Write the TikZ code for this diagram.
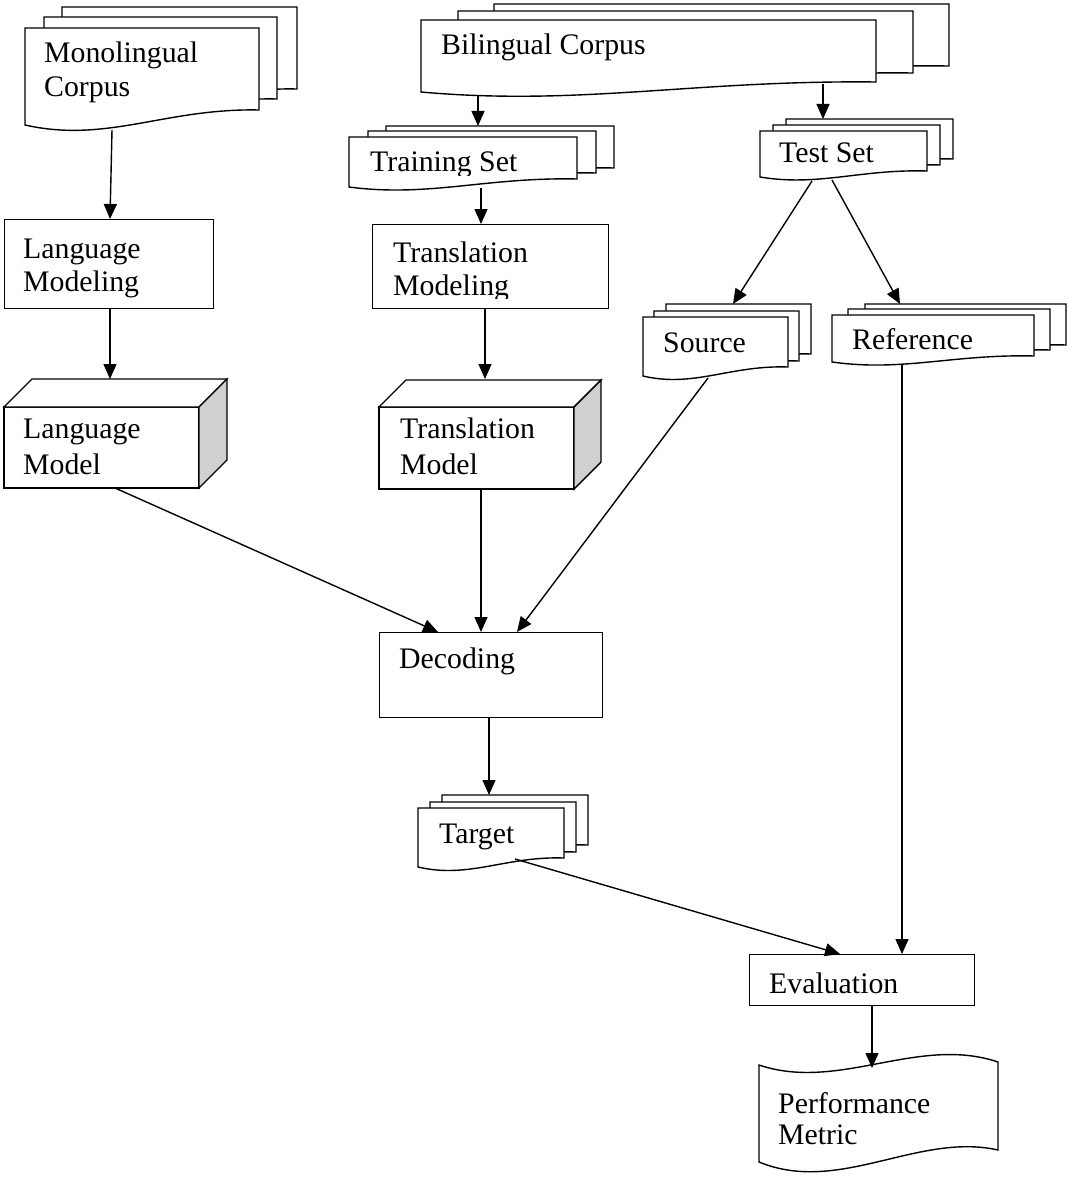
\documentclass[tikz,border=0pt]{standalone}
\usepackage{fontspec}
\setmainfont{Liberation Serif}
\usetikzlibrary{arrows.meta}
\definecolor{cubegray}{RGB}{208,208,208}
\tikzset{
  shp/.style={draw=black, fill=white, line width=1.4pt, line join=miter},
  boxnode/.style={draw=black, fill=white, line width=1.4pt, inner sep=0pt, anchor=north west},
  arr/.style={line width=1.4pt, -{Triangle[length=15pt,width=13pt]}},
  lbl/.style={anchor=base west, inner sep=0pt, font=\fontsize{29.8}{34}\selectfont},
}
% one page of a document stack: L T R Bl Br
\newcommand\docpage[5]{%
  \pgfmathsetmacro\dpW{#3-#1}%
  \pgfmathsetmacro\dpH{#4-#2}%
  \pgfmathsetmacro\dpK{0.17*\dpH+2}%
  \filldraw[shp] (#1,#2) -- (#3,#2) -- (#3,#5)
    .. controls ({#1+0.6*\dpW},{#5-2}) and ({#1+0.35*\dpW},{#4+\dpK}) .. (#1,#4) -- cycle;}
% cube: L T R B depth
\newcommand\cubeshape[5]{%
  \filldraw[shp] (#1,#2) rectangle (#3,#4);
  \filldraw[shp] (#1,#2) -- ({#1+#5},{#2-#5}) -- ({#3+#5},{#2-#5}) -- (#3,#2) -- cycle;
  \filldraw[shp, fill=cubegray] (#3,#2) -- ({#3+#5},{#2-#5}) -- ({#3+#5},{#4-#5}) -- (#3,#4) -- cycle;}
\begin{document}
\begin{tikzpicture}[x=1pt,y=-1pt]
\useasboundingbox (0,0) rectangle (1068,1177);

% ---------- Monolingual Corpus ----------
\docpage{62}{7}{297}{104}{89}
\docpage{44}{17}{277}{114}{99}
\docpage{25}{28}{259}{125}{110}
\node[lbl] (t-mono1) at (44,63) {Monolingual};
\node[lbl] (t-mono2) at (44,97) {Corpus};

% ---------- Bilingual Corpus ----------
\docpage{494}{4}{949}{76}{66}
\docpage{458}{11}{913}{83}{73}
\docpage{421}{20}{876}{92}{82}
\node[lbl] (t-bi) at (441,55) {Bilingual Corpus};

% ---------- Training Set ----------
\docpage{386}{126}{614}{176}{168}
\docpage{368}{131}{596}{181}{173}
\docpage{349}{137}{577}{187}{179}
\begin{scope}
  \clip (340,120) rectangle (600,175.5);
  \node[lbl] (t-train) at (370,172) {Training Set};
\end{scope}

% ---------- Test Set ----------
\docpage{786}{119}{953}{165}{159}
\docpage{773}{125}{940}{171}{165}
\docpage{760}{131}{927}{177}{171}
\node[lbl] (t-test) at (779,163) {Test Set};

% ---------- Language Modeling ----------
\node[boxnode, minimum width=209pt, minimum height=89pt] (lmod) at (4,219) {};
\node[lbl] (t-lmod1) at (23,258) {Language};
\node[lbl] (t-lmod2) at (23,291) {Modeling};

% ---------- Translation Modeling ----------
\node[boxnode, minimum width=236pt, minimum height=84pt] (tmod) at (372,224) {};
\node[lbl] (t-tmod1) at (393,262) {Translation};
\begin{scope}
  \clip (380,270) rectangle (600,298.5);
  \node[lbl] (t-tmod2) at (393,295) {Modeling};
\end{scope}

% ---------- Source ----------
\docpage{666}{304}{811}{363}{354}
\docpage{654}{311}{799}{370}{361}
\docpage{643}{317}{788}{376}{367}
\node[lbl] (t-src) at (663,352) {Source};

% ---------- Reference ----------
\docpage{865}{304}{1066}{351}{345}
\docpage{848}{309}{1050}{356}{350}
\docpage{832}{315}{1034}{362}{356}
\node[lbl] (t-ref) at (852,349) {Reference};

% ---------- Language Model cube ----------
\cubeshape{4}{407}{199}{488}{28}
\node[lbl] (t-lm1) at (23,438) {Language};
\node[lbl] (t-lm2) at (23,474) {Model};

% ---------- Translation Model cube ----------
\cubeshape{379}{407}{574}{489}{27}
\node[lbl] (t-tm1) at (400,438) {Translation};
\node[lbl] (t-tm2) at (400,474) {Model};

% ---------- Decoding ----------
\node[boxnode, minimum width=223pt, minimum height=85pt] (dec) at (379,632) {};
\node[lbl] (t-dec) at (399,668) {Decoding};

% ---------- Target ----------
\docpage{442}{795}{588}{854}{845}
\docpage{430}{802}{576}{861}{852}
\docpage{418}{808}{564}{867}{858}
\node[lbl] (t-tgt) at (439,843) {Target};

% ---------- Evaluation ----------
\node[boxnode, minimum width=225pt, minimum height=51pt] (eval) at (749,954) {};
\node[lbl] (t-eval) at (769,993) {Evaluation};

% ---------- Performance Metric ----------
\filldraw[shp] (759,1065) .. controls (839,1092) and (918,1035) .. (998,1062)
  -- (998,1150) .. controls (918,1132) and (839,1195) .. (759,1162) -- cycle;
\node[lbl] (t-perf1) at (778,1113) {Performance};
\node[lbl] (t-perf2) at (778,1144) {Metric};

% ---------- connector end points ----------
\coordinate (mono-out) at (112,130);
\coordinate (lmod-in) at (110,219);
\coordinate (lmod-out) at (110,308);
\coordinate (lm-in) at (110,379);
\coordinate (lm-out) at (115,488);
\coordinate (dec-in1) at (438,632);
\coordinate (bi-out1) at (478,96);
\coordinate (train-in) at (478,126);
\coordinate (bi-out2) at (823,84);
\coordinate (test-in) at (823,119);
\coordinate (train-out) at (481,188);
\coordinate (tmod-in) at (481,224);
\coordinate (tmod-out) at (485,308);
\coordinate (tm-in) at (485,379);
\coordinate (tm-out) at (481,489);
\coordinate (dec-in2) at (481,632);
\coordinate (test-out1) at (812,181);
\coordinate (src-in) at (733,304);
\coordinate (test-out2) at (832,180);
\coordinate (ref-in) at (900,304);
\coordinate (src-out) at (708,378);
\coordinate (dec-in3) at (517,632);
\coordinate (ref-out) at (902,364);
\coordinate (eval-in2) at (902,954);
\coordinate (dec-out) at (489,717);
\coordinate (tgt-in) at (489,795);
\coordinate (tgt-out) at (515,859);
\coordinate (eval-in1) at (840,954);
\coordinate (eval-out) at (872,1005);
\coordinate (perf-in) at (872,1068);

% ---------- connectors ----------
\draw[arr] (mono-out) -- (lmod-in);
\draw[arr] (lmod-out) -- (lm-in);
\draw[arr] (lm-out) -- (dec-in1);
\draw[arr] (bi-out1) -- (train-in);
\draw[arr] (bi-out2) -- (test-in);
\draw[arr] (train-out) -- (tmod-in);
\draw[arr] (tmod-out) -- (tm-in);
\draw[arr] (tm-out) -- (dec-in2);
\draw[arr] (test-out1) -- (src-in);
\draw[arr] (test-out2) -- (ref-in);
\draw[arr] (src-out) -- (dec-in3);
\draw[arr] (ref-out) -- (eval-in2);
\draw[arr] (dec-out) -- (tgt-in);
\draw[arr] (tgt-out) -- (eval-in1);
\draw[arr] (eval-out) -- (perf-in);
\end{tikzpicture}
\end{document}
